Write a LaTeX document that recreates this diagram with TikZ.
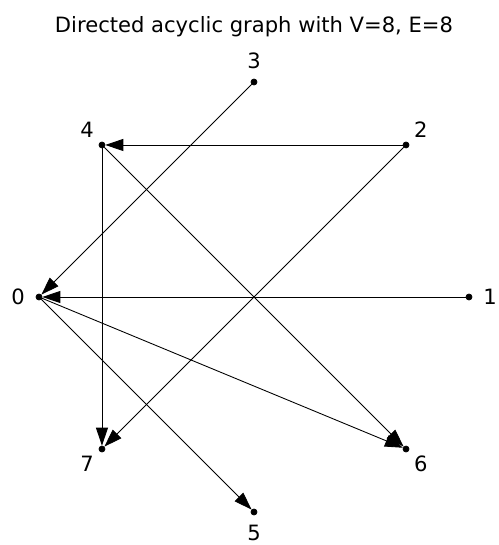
\documentclass[tikz,border=0pt]{standalone}
\usepackage{fontspec}
\setmainfont{DejaVu Sans}
\usetikzlibrary{arrows.meta}

\begin{document}
\begin{tikzpicture}[dot/.style={draw, circle, fill=black, inner sep=0pt, minimum size=0.12cm},
    edge/.style={-{Triangle[length=0.36cm, width=0.24cm]}, line width=0.5pt},
    font=\fontsize{12}{14}\selectfont]
    \useasboundingbox (-5.08,-4.96) rectangle (4.9,5.94);
    \node at (0,5.4) (title) {Directed acyclic graph with V=8, E=8};
    \node[dot] at (180:4.3) (n0) {};
    \node[dot] at (0:4.3) (n1) {};
    \node[dot] at (45:4.3) (n2) {};
    \node[dot] at (90:4.3) (n3) {};
    \node[dot] at (135:4.3) (n4) {};
    \node[dot] at (270:4.3) (n5) {};
    \node[dot] at (315:4.3) (n6) {};
    \node[dot] at (225:4.3) (n7) {};
    \draw[edge] (n3) -- (n0);
    \draw[edge] (n2) -- (n4);
    \draw[edge] (n2) -- (n7);
    \draw[edge] (n1) -- (n0);
    \draw[edge] (n4) -- (n7);
    \draw[edge] (n4) -- (n6);
    \draw[edge] (n0) -- (n6);
    \draw[edge] (n0) -- (n5);
    \node at (180:4.72) (l0) {0};
    \node at (0:4.72) (l1) {1};
    \node at (45:4.72) (l2) {2};
    \node at (90:4.72) (l3) {3};
    \node at (135:4.72) (l4) {4};
    \node at (270:4.72) (l5) {5};
    \node at (315:4.72) (l6) {6};
    \node at (225:4.72) (l7) {7};
\end{tikzpicture}
\end{document}
